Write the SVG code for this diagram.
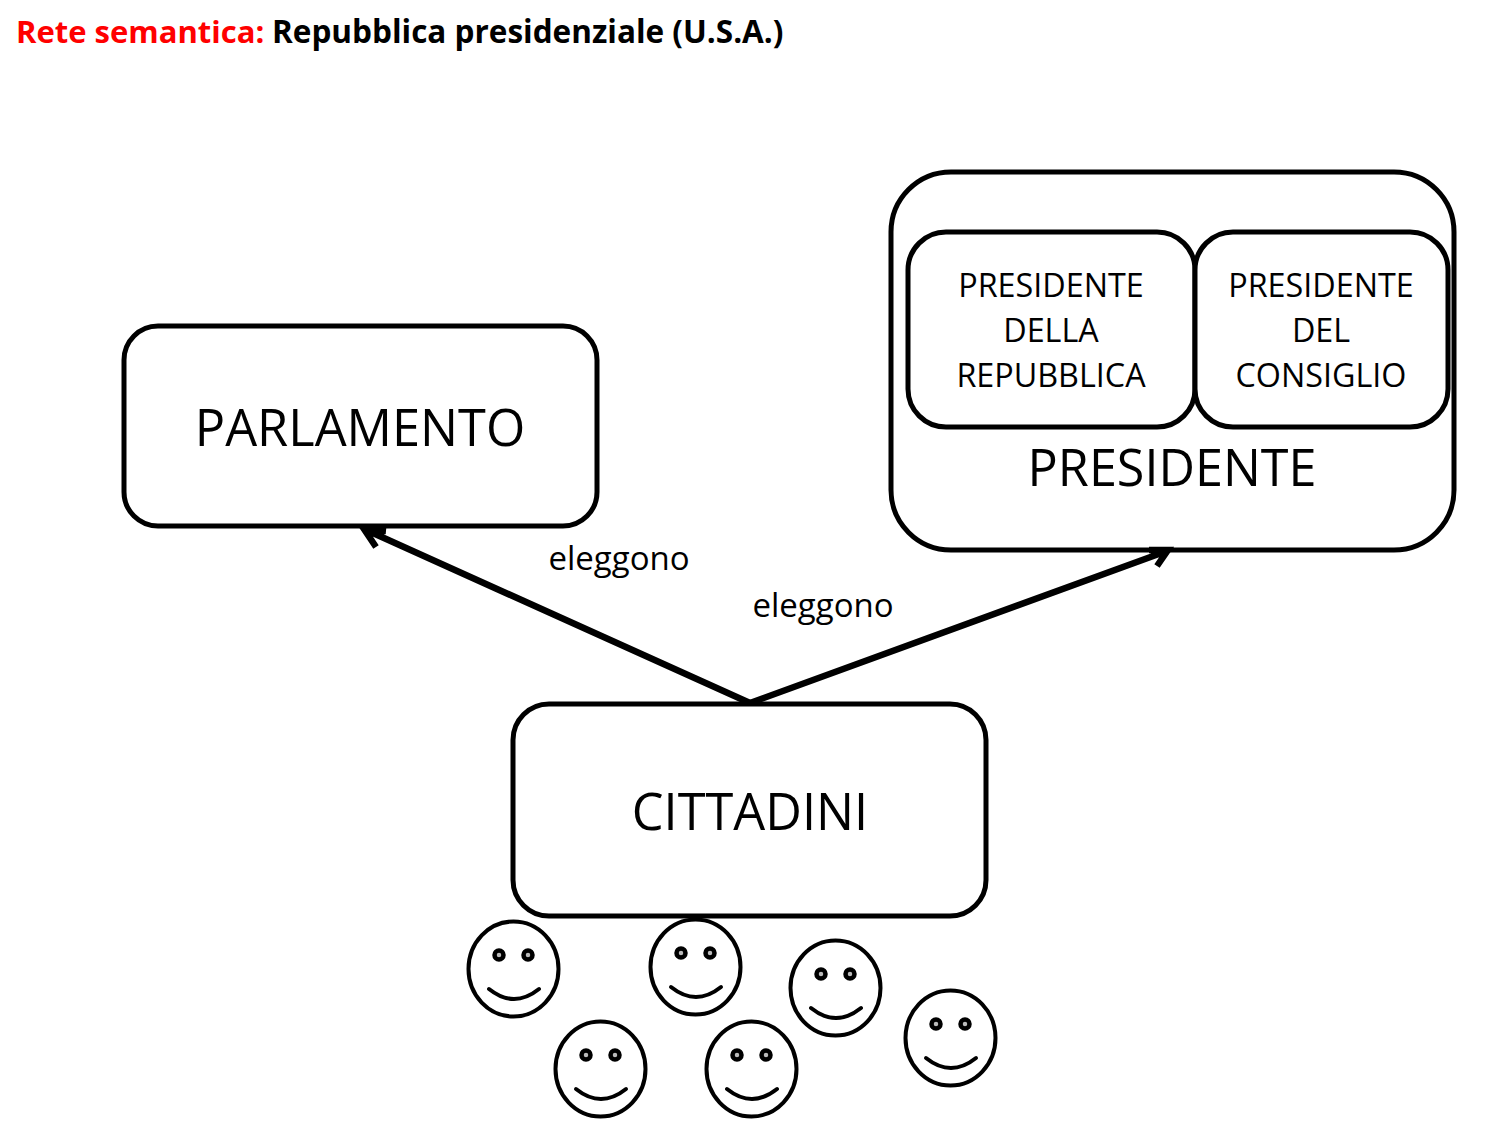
<svg xmlns="http://www.w3.org/2000/svg" width="1500" height="1125" viewBox="0 0 1500 1125">
<style>
.b{fill:#fff;stroke:#000;stroke-width:5}
.t{font-family:"Open Sans","Noto Sans",sans-serif;fill:#000;text-anchor:middle}
.h{font-family:"Open Sans","Noto Sans",sans-serif;font-weight:700;font-size:31px}
.f{fill:#fff;stroke:#000;stroke-width:4}
.y{fill:#bbb;stroke:#000;stroke-width:4.500}
.e{fill:none;stroke:#000;stroke-width:4;stroke-linecap:round}
.c{fill:none;stroke:#000;stroke-width:6.500}
</style>
<defs>
<g id="face">
<ellipse class="f" cx="45.500" cy="48" rx="45" ry="47.500"/>
<circle class="y" cx="31" cy="34" r="4.500"/>
<circle class="y" cx="60" cy="34" r="4.500"/>
<path class="e" d="M21 68Q46 88 71 68"/>
</g>
</defs>
<rect width="1500" height="1125" fill="#fff"/>
<text class="h" x="16" y="43" fill="#f00">Rete semantica:</text>
<text class="h" x="272" y="43" fill="#000" style="font-size:31.500px">Repubblica presidenziale (U.S.A.)</text>
<g id="parlamento"><rect class="b" x="124" y="326" width="473" height="200" rx="34"/><text class="t" x="360" y="446" font-size="50.500">PARLAMENTO</text></g>
<g id="presidente"><rect class="b" x="891" y="172" width="563" height="378" rx="60"/><text class="t" x="1172" y="486" font-size="50.300">PRESIDENTE</text></g>
<g id="presidente-repubblica"><rect class="b" x="908" y="232" width="287" height="195" rx="38"/><text class="t" font-size="32.300"><tspan x="1051" y="297">PRESIDENTE</tspan><tspan x="1051" y="342">DELLA</tspan><tspan x="1051" y="387">REPUBBLICA</tspan></text></g>
<g id="presidente-consiglio"><rect class="b" x="1195" y="232" width="253" height="195" rx="38"/><text class="t" font-size="32.300"><tspan x="1321" y="297">PRESIDENTE</tspan><tspan x="1321" y="342">DEL</tspan><tspan x="1321" y="387">CONSIGLIO</tspan></text></g>
<g id="cittadini"><rect class="b" x="513" y="704" width="473" height="212" rx="36"/><text class="t" x="750" y="830" font-size="50.500">CITTADINI</text></g>
<g id="connectors">
<path class="c" d="M750 703L364 529M386 531L364 529L376 547"/>
<path class="c" d="M750 703L1167 551M1149 550L1168 550L1157 566"/>
</g>
<text class="t" x="619" y="570" font-size="33">eleggono</text>
<text class="t" x="823" y="617" font-size="33">eleggono</text>
<g id="face1"><use href="#face" x="468" y="921"/></g>
<g id="face2"><use href="#face" x="650" y="919"/></g>
<g id="face3"><use href="#face" x="790" y="940"/></g>
<g id="face4"><use href="#face" x="905" y="990"/></g>
<g id="face5"><use href="#face" x="555" y="1021"/></g>
<g id="face6"><use href="#face" x="706" y="1021"/></g>
</svg>
